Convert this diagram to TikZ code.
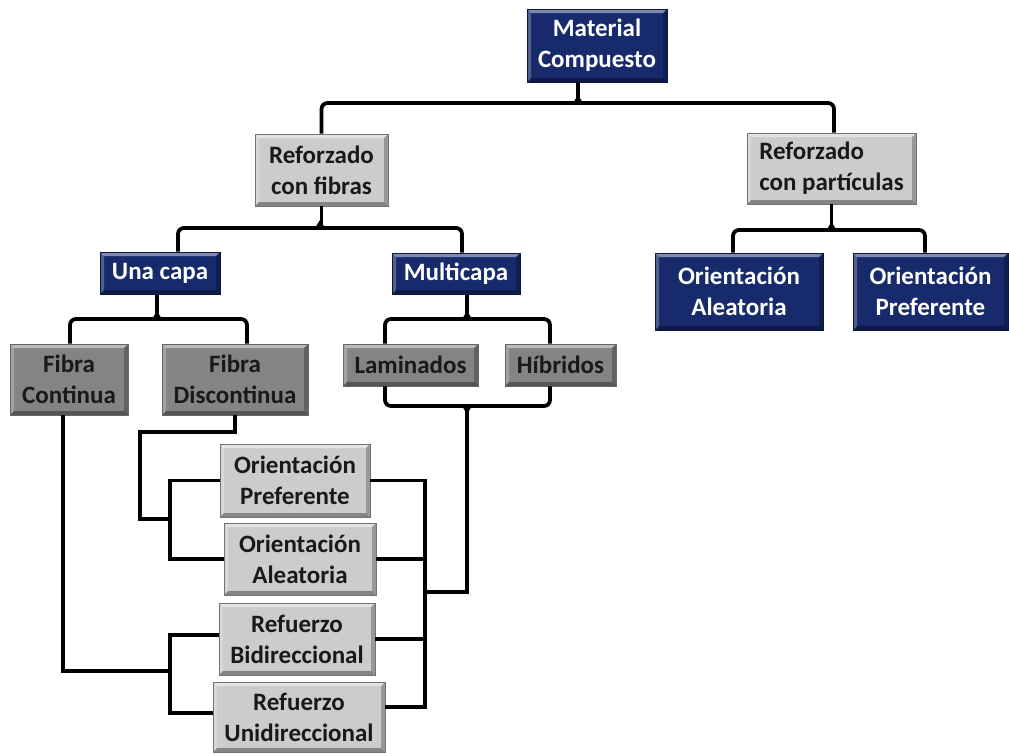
\documentclass[tikz,border=0pt]{standalone}
\usepackage{fontspec}
\setmainfont{Carlito}
\usetikzlibrary{calc}
\definecolor{navy}{RGB}{22,42,108}
\definecolor{navyedge}{RGB}{12,22,62}
\definecolor{lgray}{RGB}{204,204,204}
\definecolor{dgray}{RGB}{132,132,132}
\newcommand\boxfont{\fontsize{25}{31}\selectfont\bfseries}
\begin{document}
\begin{tikzpicture}[x=1pt,y=-1pt,
  base/.style={rectangle, inner sep=0pt, align=center, font=\boxfont, line width=0.8pt,
    path picture={
      \coordinate (BL) at (path picture bounding box.south west);
      \coordinate (TR) at (path picture bounding box.north east);
      \coordinate (TL) at (BL |- TR);
      \coordinate (BR) at (TR |- BL);
      \fill[white,opacity=0.45] (TL) -- (TR) -- ([shift={(-4,4)}]TR) -- ([shift={(4,4)}]TL) -- cycle;
      \fill[white,opacity=0.25] (TL) -- ([shift={(4,4)}]TL) -- ([shift={(4,-4)}]BL) -- (BL) -- cycle;
      \fill[black,opacity=0.35] (BL) -- ([shift={(4,-4)}]BL) -- ([shift={(-4,-4)}]BR) -- (BR) -- cycle;
      \fill[black,opacity=0.25] (TR) -- (BR) -- ([shift={(-4,-4)}]BR) -- ([shift={(-4,4)}]TR) -- cycle;
    }},
  navybox/.style={base, fill=navy, draw=navyedge, text=white},
  lbox/.style={base, fill=lgray, draw=black!55, text=black!90},
  dbox/.style={base, fill=dgray, draw=black!60, text=black!90},
  conn/.style={draw=black, line width=3.8pt, rounded corners=6pt},
  sharpconn/.style={draw=black, line width=3.8pt, sharp corners, line join=miter},
  cusp/.style={fill=black}
]
\useasboundingbox (0,0) rectangle (1009,755);

% nodes
\node[navybox, minimum width=140, minimum height=73] (mc) at (597,45.5) {Material\\Compuesto};
\node[lbox, minimum width=133, minimum height=72] (rf) at (321.5,170) {Reforzado\\con fibras};
\node[lbox, minimum width=169, minimum height=71, align=left] (rp) at (831.5,168.5) {Reforzado\\con partículas};
\node[navybox, minimum width=168, minimum height=77] (oa2) at (739,291.5) {Orientación\\Aleatoria};
\node[navybox, minimum width=155, minimum height=77] (op2) at (930.5,291.5) {Orientación\\Preferente};
\node[navybox, minimum width=120, minimum height=42] (uc) at (160,273) {Una capa};
\node[navybox, minimum width=128, minimum height=41] (mu) at (456,273.5) {Multicapa};
\node[dbox, minimum width=118, minimum height=71] (fc) at (69,379.5) {Fibra\\Continua};
\node[dbox, minimum width=146, minimum height=71] (fd) at (235,379.5) {Fibra\\Discontinua};
\node[dbox, minimum width=135, minimum height=42] (la) at (410.5,365) {Laminados};
\node[dbox, minimum width=111, minimum height=42] (hi) at (560.5,365) {Híbridos};
\node[lbox, minimum width=150, minimum height=73] (op) at (295,480.5) {Orientación\\Preferente};
\node[lbox, minimum width=152, minimum height=72] (oa) at (300,559) {Orientación\\Aleatoria};
\node[lbox, minimum width=156, minimum height=72] (rb) at (297,639) {Refuerzo\\Bidireccional};
\node[lbox, minimum width=172, minimum height=70] (ru) at (299,717) {Refuerzo\\Unidireccional};

% junction coordinates
\coordinate (j1) at (578,103);
\coordinate (j2) at (320,228);
\coordinate (j3) at (157,319);
\coordinate (j4) at (467,319);
\coordinate (j5) at (467,406);
\coordinate (j6) at (831.5,230);
\coordinate (k1) at (425,592);
\coordinate (k2) at (170,519);
\coordinate (k3) at (140,432);
\coordinate (k4) at (170,671);

% connectors
\draw[conn] ([xshift=-19]mc.south) -- (j1);
\draw[conn] (rf.north) |- (j1) -| ([xshift=2.5]rp.north);

\draw[conn] (rf.south) -- (rf.south |- j2);
\draw[conn] ([xshift=18]uc.north) |- (j2) -| ([xshift=6]mu.north);

\draw[conn] ([xshift=-3]uc.south) -- (j3);
\draw[conn] ([xshift=1]fc.north) |- (j3) -| ([xshift=12]fd.north);

\draw[conn] ([xshift=11]mu.south) -- (j4);
\draw[conn] ([xshift=-25.5]la.north) |- (j4) -| ([xshift=-10.5]hi.north);

\draw[conn] ([xshift=-25.5]la.south) |- (j5) -| ([xshift=-10.5]hi.south);
\draw[sharpconn] (j5) |- (k1);

\draw[sharpconn] (op.east) -| (k1) |- ([yshift=10]ru.east);
\draw[sharpconn] (oa.east) -- (oa.east -| k1);
\draw[sharpconn] (rb.east) -- (rb.east -| k1);

\draw[sharpconn] (op.west) -| (k2) |- (oa.west);
\draw[sharpconn] (fd.south) |- (k3) |- (k2);

\draw[sharpconn] ([yshift=4]rb.west) -| (k4) |- ([yshift=4]ru.west);
\draw[sharpconn] ([xshift=-6]fc.south) |- (k4);

\draw[conn] (rp.south) -- (j6);
\draw[conn] ([xshift=-6]oa2.north) |- (j6) -| ([xshift=-5.5]op2.north);

% brace cusps
\foreach \j in {j1,j2,j3,j4,j6}{
  \fill[cusp] ([xshift=-5]\j) -- ([xshift=5]\j) -- ([yshift=8]\j) -- cycle;
}
\fill[cusp] ([xshift=-5]j5) -- ([xshift=5]j5) -- ([yshift=-8]j5) -- cycle;
\end{tikzpicture}
\end{document}
